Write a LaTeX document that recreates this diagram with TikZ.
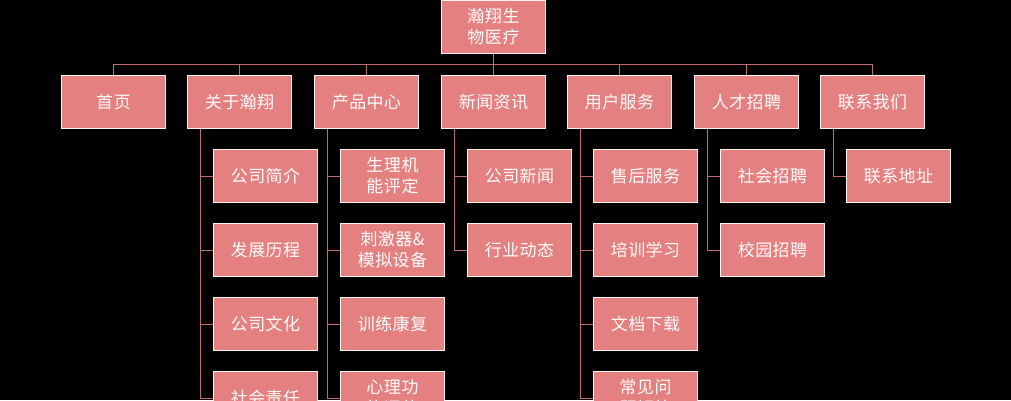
\documentclass[tikz,border=0pt]{standalone}
\usepackage{fontspec}
\setmainfont{Noto Sans CJK SC}
\XeTeXlinebreaklocale "zh"
\XeTeXlinebreakskip=0pt plus 1pt
\begin{document}
\begin{tikzpicture}[x=1pt,y=-1pt,
 box/.style={draw=white!80!pink, line width=1pt, fill=boxfill, text=white!95!pink, anchor=north west, minimum width=104pt, minimum height=53pt, inner sep=1pt, text width=95pt, align=center, font=\fontsize{17}{21}\selectfont},
 conn/.style={draw=linec, line width=1pt}]
\definecolor{boxfill}{RGB}{228,128,128}
\definecolor{linec}{RGB}{190,110,110}
\useasboundingbox (0,0) rectangle (1011,400);
\fill[black] (0,0) rectangle (1011,400);
\clip (0,0) rectangle (1011,400);
\node[box] (r) at (441,0) {瀚翔生物医疗};
\foreach \n/\x/\t in {a/61/首页,b/187/关于瀚翔,c/314/产品中心,d/441/新闻资讯,e/567/用户服务,f/694/人才招聘,g/820/联系我们}
  \node[box] (\n) at (\x,75) {\t};
% bus
\coordinate (busL) at (113,64);
\coordinate (busR) at (872,64);
\draw[conn] (busL) -- (busR);
\draw[conn] (r.south) -- (r.south |- busL);
\foreach \n in {a,b,c,d,e,f,g} \draw[conn] (\n.north) -- (\n.north |- busL);
% children
\foreach \p/\x/\list in {b/213/{公司简介,发展历程,公司文化,社会责任},
  c/340/{生理机能评定,刺激器\&模拟设备,训练康复,心理功能评估},
  d/467/{公司新闻,行业动态},
  e/593/{售后服务,培训学习,文档下载,常见问题解答},
  f/720/{社会招聘,校园招聘},
  g/846/{联系地址}} {
  \foreach \t [count=\i] in \list {
    \pgfmathsetmacro{\yy}{149+74*(\i-1)}
    \node[box] (\p\i) at (\x,\yy) {\t};
    \draw[conn] ([xshift=13pt]\p.south west) |- (\p\i.west);
  }
}
\end{tikzpicture}
\end{document}
